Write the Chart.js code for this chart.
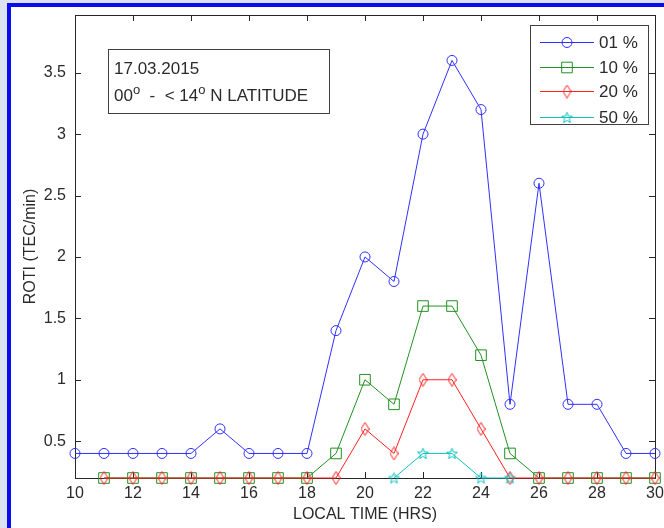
<!DOCTYPE html>
<html>
<head>
<meta charset="utf-8">
<script src="https://cdn.jsdelivr.net/npm/chart.js@4.4.1/dist/chart.umd.min.js"></script>
<style>
  body { margin: 0; background: #dce3f0; width: 664px; height: 528px; overflow: hidden; position: relative; }
  #frame { position: absolute; left: 7px; top: 3px; width: 700px; height: 600px; background: #fff;
           border-left: 4px solid #0b0bf0; border-top: 4px solid #0b0bf0; }
  #wrap { position: absolute; left: 0; top: 0; width: 664px; height: 528px; }
</style>
</head>
<body>
<div id="frame"></div>
<div id="wrap"><canvas id="myChart" width="664" height="528"></canvas></div>
<script>
// local time (hrs)
const hours = [10, 11, 12, 13, 14, 15, 16, 17, 18, 19, 20, 21, 22, 23, 24, 25, 26, 27, 28, 29, 30];

// ROTI (TEC/min) per percentile
const p01 = [0.4, 0.4, 0.4, 0.4, 0.4, 0.6, 0.4, 0.4, 0.4, 1.4, 2.0, 1.8, 3.0, 3.6, 3.2, 0.8, 2.6, 0.8, 0.8, 0.4, 0.4];
const p10 = [null, 0.2, 0.2, 0.2, 0.2, 0.2, 0.2, 0.2, 0.2, 0.4, 1.0, 0.8, 1.6, 1.6, 1.2, 0.4, 0.2, 0.2, 0.2, 0.2, 0.2];
const p20 = [null, 0.2, 0.2, 0.2, 0.2, 0.2, 0.2, 0.2, 0.2, 0.2, 0.6, 0.4, 1.0, 1.0, 0.6, 0.2, 0.2, 0.2, 0.2, 0.2, 0.2];
const p50 = [null, null, null, null, null, null, null, null, null, null, null, 0.2, 0.4, 0.4, 0.2, 0.2, null, null, null, null, null];

const seriesLabels = ['01 %', '10 %', '20 %', '50 %'];

const xTicks = [10, 12, 14, 16, 18, 20, 22, 24, 26, 28, 30];
const yTicks = [0.5, 1, 1.5, 2, 2.5, 3, 3.5];

const noteDate = '17.03.2015';
// odd entries are drawn as superscripts
const noteLat = ['00', 'o', '  -  < 14', 'o', ' N LATITUDE'];

const textColor = '#2a2a2a';
const fontFamily = '"Liberation Sans", Arial, sans-serif';

const toPoints = (vals) => vals.map((v, i) => ({x: hours[i], y: v}));

// marker images for the diamond and the star
function markerCanvas(w, h, color, path) {
  const c = document.createElement('canvas');
  c.width = w; c.height = h;
  const g = c.getContext('2d');
  g.strokeStyle = color;
  g.lineWidth = 1;
  g.beginPath();
  path(g, w, h);
  g.closePath();
  g.stroke();
  return c;
}

const diamond = markerCanvas(9, 14, '#ff2020', (g, w, h) => {
  g.moveTo(w / 2, 0.5); g.lineTo(w - 0.5, h / 2); g.lineTo(w / 2, h - 0.5); g.lineTo(0.5, h / 2);
});

const star = markerCanvas(13, 13, '#10c0c0', (g, w, h) => {
  const cx = w / 2, cy = h / 2 + 0.5, ro = 5.8, ri = 2.4;
  for (let i = 0; i < 10; i++) {
    const r = i % 2 ? ri : ro;
    const a = -Math.PI / 2 + i * Math.PI / 5;
    const px = cx + r * Math.cos(a), py = cy + r * Math.sin(a);
    if (i === 0) g.moveTo(px, py); else g.lineTo(px, py);
  }
});

const framePlugin = {
  id: 'framePlugin',
  beforeDatasetsDraw(chart) {
    const {ctx, chartArea: a, scales: {x, y}} = chart;
    ctx.save();
    ctx.strokeStyle = '#262626';
    ctx.lineWidth = 1;
    ctx.strokeRect(Math.round(a.left) + 0.5, Math.round(a.top) + 0.5, Math.round(a.right - a.left), Math.round(a.bottom - a.top));
    ctx.beginPath();
    xTicks.forEach(v => {
      const px = Math.round(x.getPixelForValue(v)) + 0.5;
      ctx.moveTo(px, a.bottom); ctx.lineTo(px, a.bottom - 6);
      ctx.moveTo(px, a.top); ctx.lineTo(px, a.top + 6);
    });
    yTicks.forEach(v => {
      const py = Math.round(y.getPixelForValue(v)) + 0.5;
      ctx.moveTo(a.left, py); ctx.lineTo(a.left + 6, py);
      ctx.moveTo(a.right, py); ctx.lineTo(a.right - 6, py);
    });
    ctx.stroke();
    ctx.restore();
  },
  afterDraw(chart) {
    const ctx = chart.ctx;
    ctx.save();
    ctx.textBaseline = 'middle';

    // date / latitude note
    ctx.fillStyle = '#fff';
    ctx.fillRect(108, 49, 221, 64);
    ctx.strokeStyle = '#404040';
    ctx.lineWidth = 1;
    ctx.strokeRect(108.5, 49.5, 221, 64);
    ctx.fillStyle = textColor;
    ctx.font = '17px ' + fontFamily;
    ctx.fillText(noteDate, 114, 69);
    let tx = 114;
    noteLat.forEach((part, i) => {
      if (i % 2) {
        ctx.font = '13px ' + fontFamily;
        ctx.fillText(part, tx, 90);
      } else {
        ctx.font = '17px ' + fontFamily;
        ctx.fillText(part, tx, 96);
      }
      tx += ctx.measureText(part).width;
    });

    // legend
    ctx.font = '17px ' + fontFamily;
    ctx.fillStyle = '#fff';
    ctx.fillRect(530, 25, 118, 99);
    ctx.strokeStyle = '#404040';
    ctx.strokeRect(530.5, 25.5, 118, 99);
    const rows = [42, 67, 91, 117];
    chart.data.datasets.forEach((ds, i) => {
      const ry = rows[i] + 0.5;
      ctx.strokeStyle = ds.borderColor;
      ctx.lineWidth = 1;
      ctx.beginPath();
      ctx.moveTo(540, ry); ctx.lineTo(594, ry);
      ctx.stroke();
      ctx.fillStyle = 'rgba(0,0,0,0)';
      Chart.helpers.drawPoint(ctx, {pointStyle: ds.pointStyle, radius: ds.pointRadius, rotation: 0, borderWidth: 1}, 567, ry);
      ctx.fillStyle = textColor;
      ctx.fillText(ds.label, 599, rows[i] + 1);
    });
    ctx.restore();
  }
};

const ctx = document.getElementById('myChart').getContext('2d');
const myChart = new Chart(ctx, {
  type: 'line',
  data: {
    datasets: [
      {label: seriesLabels[0], data: toPoints(p01), borderColor: '#3030ff', pointStyle: 'circle', pointRadius: 5, order: 1},
      {label: seriesLabels[1], data: toPoints(p10), borderColor: '#229022', pointStyle: 'rect', pointRadius: 7.5, order: 4},
      {label: seriesLabels[2], data: toPoints(p20), borderColor: '#ff2020', pointStyle: diamond, pointRadius: 6, order: 3},
      {label: seriesLabels[3], data: toPoints(p50), borderColor: '#10c0c0', pointStyle: star, pointRadius: 6, order: 2}
    ].map(ds => Object.assign({
      borderWidth: 1,
      pointBorderWidth: 1,
      pointBackgroundColor: 'rgba(0,0,0,0)',
      pointBorderColor: ds.borderColor,
      pointHoverRadius: ds.pointRadius,
      tension: 0,
      spanGaps: false,
      clip: false
    }, ds))
  },
  options: {
    responsive: false,
    animation: false,
    devicePixelRatio: 1,
    layout: {padding: {top: 15, right: 9, left: 0, bottom: 0}},
    plugins: {legend: {display: false}, tooltip: {enabled: false}},
    scales: {
      x: {
        type: 'linear',
        min: 10, max: 30,
        grid: {display: false, drawTicks: false},
        border: {display: false},
        afterBuildTicks: (scale) => { scale.ticks = xTicks.map(v => ({value: v})); },
        afterFit: (scale) => { scale.height = 50; scale.paddingLeft = 0; scale.paddingRight = 0; },
        ticks: {color: textColor, font: {size: 16, family: fontFamily}, padding: 6, maxRotation: 0, autoSkip: false},
        title: {display: true, text: 'LOCAL TIME (HRS)', color: textColor, font: {size: 16, family: fontFamily}, padding: {top: 0, bottom: 4}}
      },
      y: {
        min: 0.2, max: 3.97,
        grid: {display: false, drawTicks: false},
        border: {display: false},
        afterBuildTicks: (scale) => { scale.ticks = yTicks.map(v => ({value: v})); },
        afterFit: (scale) => { scale.width = 75; scale.paddingTop = 0; scale.paddingBottom = 0; },
        ticks: {color: textColor, font: {size: 16, family: fontFamily}, padding: 9, callback: (v) => String(v)},
        title: {display: true, text: 'ROTI (TEC/min)', color: textColor, font: {size: 16, family: fontFamily}, padding: {top: 21, bottom: 0}}
      }
    }
  },
  plugins: [framePlugin]
});
</script>
</body>
</html>
